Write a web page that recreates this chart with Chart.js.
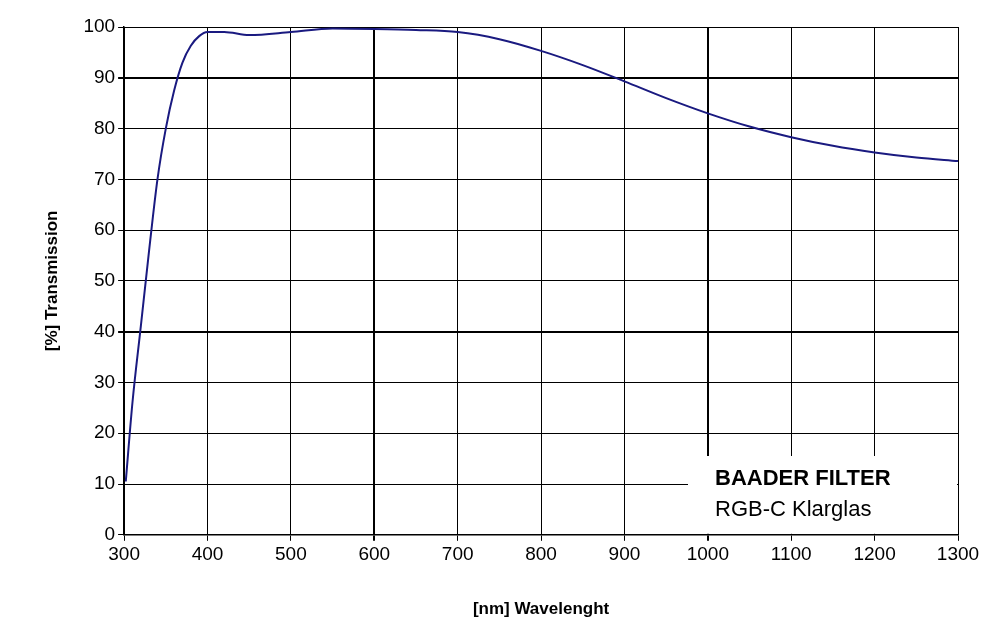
<!DOCTYPE html>
<html>
<head>
<meta charset="utf-8">
<script src="https://cdn.jsdelivr.net/npm/chart.js@4"></script>
<style>
  body { margin: 0; background: #fff; }
  #wrap { width: 1000px; height: 636px; }
</style>
</head>
<body>
<div id="wrap"><canvas id="c"></canvas></div>
<script>
const wavelengths = [302, 310, 320, 330, 340, 350, 360, 370, 380, 390, 400, 420, 450, 500, 550, 600, 650, 700, 750, 800, 850, 900, 950, 1000, 1050, 1100, 1150, 1200, 1250, 1300];
const transmission = [10.5, 26, 41, 56, 70, 80, 87.5, 93, 96.3, 98.2, 99, 99, 98.4, 99, 99.7, 99.6, 99.4, 99, 97.6, 95.3, 92.5, 89.3, 86, 83, 80.4, 78.3, 76.6, 75.3, 74.3, 73.6];
const title = 'BAADER FILTER';
const subtitle = 'RGB-C Klarglas';

const labelBox = {
    id: 'labelBox',
    afterDatasetsDraw(chart) {
        const { ctx, chartArea } = chart;
        ctx.save();
        ctx.fillStyle = '#fff';
        ctx.fillRect(688, 456, chartArea.right - 689, chartArea.bottom - 457);
        ctx.fillStyle = '#000';
        ctx.textBaseline = 'alphabetic';
        ctx.font = 'bold 22px "Liberation Sans", Arial';
        ctx.fillText(title, 715, 485);
        ctx.font = '22px "Liberation Sans", Arial';
        ctx.fillText(subtitle, 715, 516);
        ctx.restore();
    }
};

new Chart(document.getElementById('c'), {
    type: 'line',
    data: {
        datasets: [{
            data: wavelengths.map((w, i) => ({ x: w, y: transmission[i] })),
            borderColor: '#1a1a80',
            borderWidth: 2,
            pointRadius: 0,
            tension: 0.4,
            cubicInterpolationMode: 'monotone'
        }]
    },
    options: {
        responsive: true,
        maintainAspectRatio: false,
        animation: false,
        layout: { padding: { top: 27, right: 42, left: 38, bottom: 12 } },
        plugins: { legend: { display: false }, tooltip: { enabled: false } },
        scales: {
            x: {
                type: 'linear', min: 300, max: 1300,
                ticks: { stepSize: 100, color: '#000', callback: v => String(v), font: { family: '"Liberation Sans", Arial', size: 19 } },
                grid: {
                    color: '#000',
                    lineWidth: c => (c.tick && (c.tick.value === 600 || c.tick.value === 1000)) ? 2 : 1,
                    tickLength: 6
                },
                border: { color: '#000', width: 1.5 },
                title: { display: true, text: '[nm] Wavelenght', color: '#000', padding: { top: 30 }, font: { family: '"Liberation Sans", Arial', size: 17, weight: 'bold' } }
            },
            y: {
                min: 0, max: 100,
                ticks: { stepSize: 10, color: '#000', font: { family: '"Liberation Sans", Arial', size: 19 } },
                grid: {
                    color: '#000',
                    lineWidth: c => (c.tick && (c.tick.value === 40 || c.tick.value === 90)) ? 2 : 1,
                    tickLength: 6
                },
                border: { color: '#000', width: 1.5 },
                title: { display: true, text: '[%] Transmission', color: '#000', padding: { bottom: 18 }, font: { family: '"Liberation Sans", Arial', size: 17, weight: 'bold' } }
            }
        }
    },
    plugins: [labelBox]
});
</script>
</body>
</html>
